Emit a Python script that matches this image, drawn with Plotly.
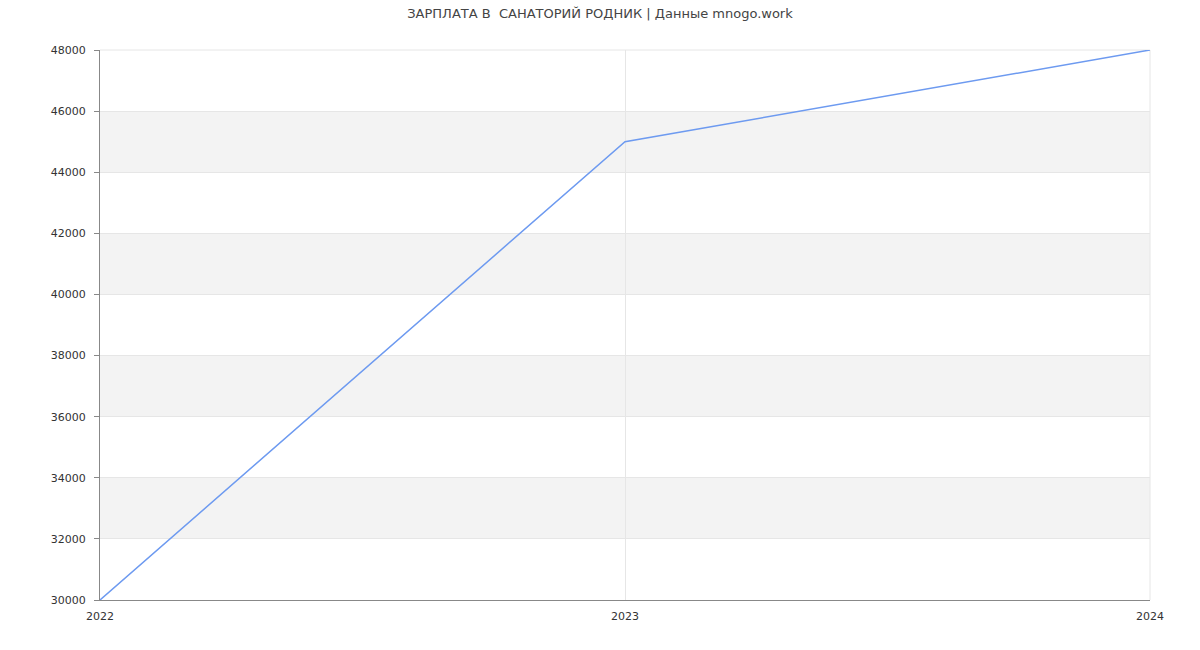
import plotly.graph_objects as go

years = [2022, 2023, 2024]
salary = [30000, 45000, 48000]
y_ticks = [30000, 32000, 34000, 36000, 38000, 40000, 42000, 44000, 46000, 48000]
bands = [(32000, 34000), (36000, 38000), (40000, 42000), (44000, 46000)]
title = "ЗАРПЛАТА В  САНАТОРИЙ РОДНИК | Данные mnogo.work"

fig = go.Figure()
fig.add_trace(go.Scatter(x=years, y=salary, mode="lines",
                         line=dict(color="#6d9af0", width=1.5),
                         hoverinfo="x+y", showlegend=False))

for lo, hi in bands:
    fig.add_shape(type="rect", xref="paper", yref="y", x0=0, x1=1, y0=lo, y1=hi,
                  fillcolor="#f3f3f3", line=dict(width=0), layer="below")

# edge grid lines (right and top of plot area)
fig.add_shape(type="line", xref="paper", yref="paper", x0=1, x1=1, y0=0, y1=1,
              line=dict(color="#e6e6e6", width=1), layer="below")
fig.add_shape(type="line", xref="paper", yref="paper", x0=0, x1=1, y0=1, y1=1,
              line=dict(color="#e6e6e6", width=1), layer="below")

fig.update_layout(
    width=1200, height=650,
    margin=dict(l=100, r=50, t=50, b=50),
    paper_bgcolor="white", plot_bgcolor="white",
    font=dict(family="DejaVu Sans", size=11, color="#333"),
    title=dict(text=title, x=0.5, xanchor="center", y=0.98, yanchor="middle",
               font=dict(family="DejaVu Sans", size=13, color="#444")),
    xaxis=dict(range=[2022, 2024], tickvals=years, ticktext=[str(y) for y in years],
               showgrid=True, gridcolor="#e6e6e6", gridwidth=1,
               showline=True, linecolor="#888", linewidth=1,
               ticks="", zeroline=False, fixedrange=True, ticklabelstandoff=6),
    yaxis=dict(range=[30000, 48000], tickvals=y_ticks,
               ticktext=[str(v) for v in y_ticks],
               showgrid=True, gridcolor="#e6e6e6", gridwidth=1,
               showline=True, linecolor="#888", linewidth=1,
               ticks="outside", ticklen=5, tickcolor="#888",
               zeroline=False, fixedrange=True, ticklabelstandoff=6),
)

fig.write_html("out.html")
